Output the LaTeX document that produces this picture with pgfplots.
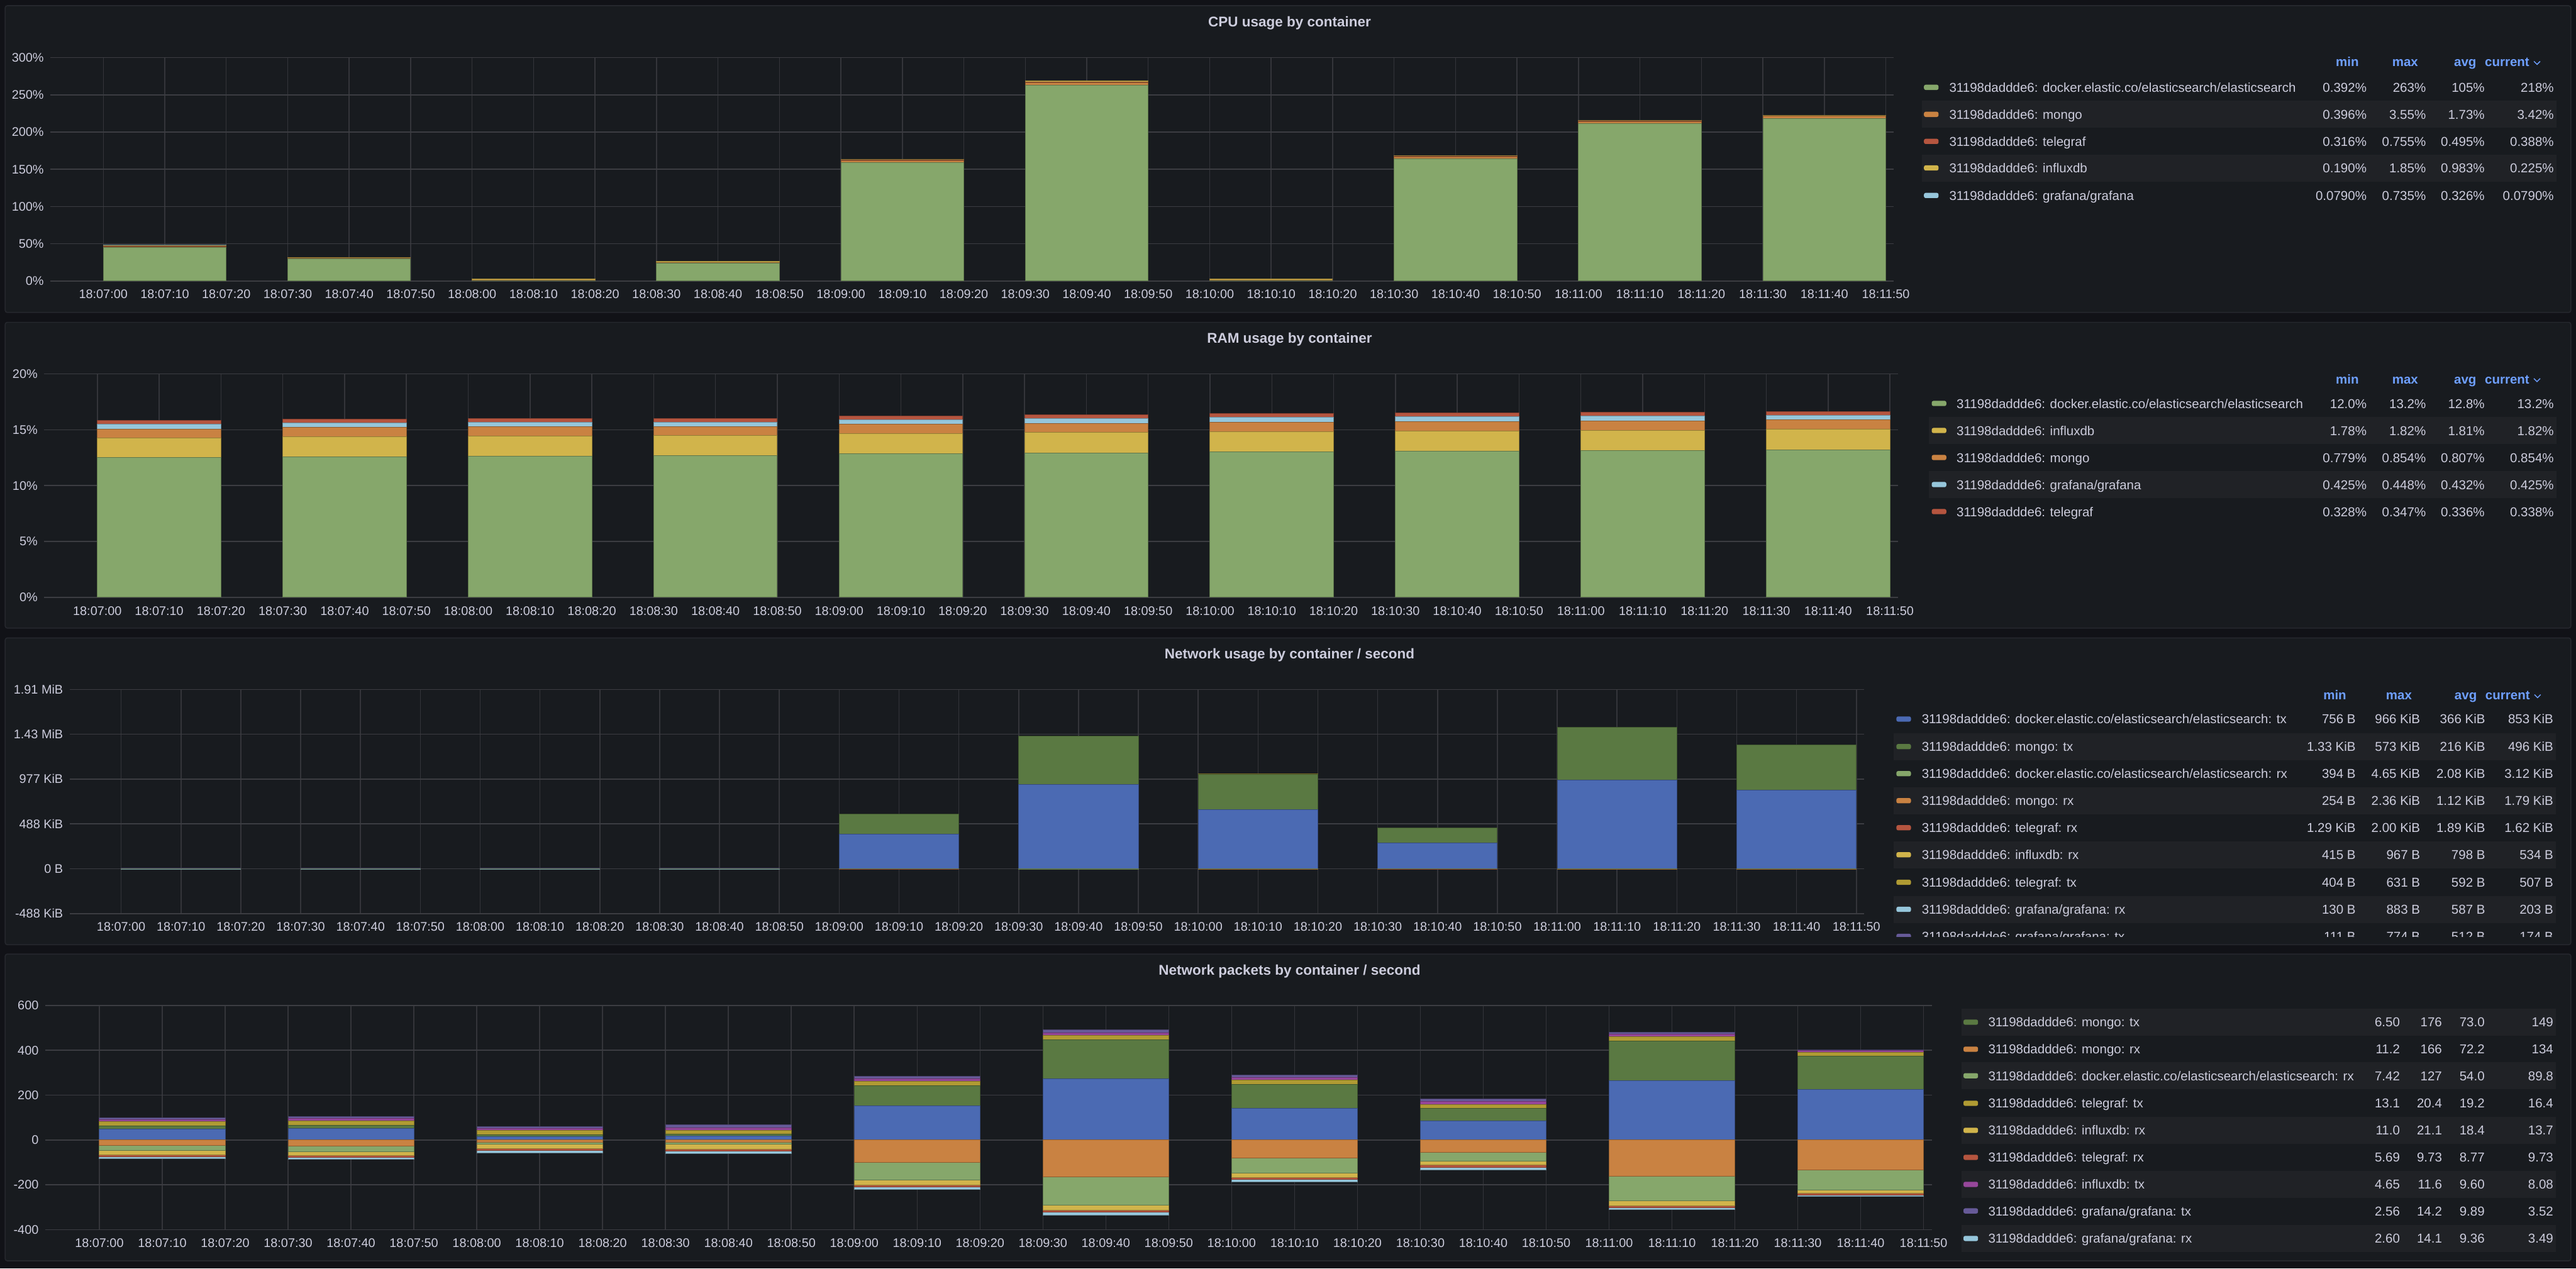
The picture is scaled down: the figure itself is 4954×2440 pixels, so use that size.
\documentclass[border=0pt]{standalone}
\usepackage{pgfplots}
\pgfplotsset{compat=1.18}
\usepackage{pgfplotstable}
\usepackage{fontspec}
\setmainfont{Liberation Sans}

\definecolor{pagebg}{HTML}{111217}
\definecolor{panelbg}{HTML}{181B1F}
\definecolor{panelborder}{HTML}{25272D}
\definecolor{rowbg}{HTML}{202226}
\definecolor{txt}{HTML}{CCCCDC}
\definecolor{hdr}{HTML}{6E9FFF}
\definecolor{hgrid}{HTML}{3C3D42}
\definecolor{vgrid}{HTML}{34353A}
\definecolor{cGreen}{HTML}{86A76B}
\definecolor{cOrange}{HTML}{C98242}
\definecolor{cRed}{HTML}{B5553F}
\definecolor{cYellow}{HTML}{D1B44B}
\definecolor{cLBlue}{HTML}{96C6DB}
\definecolor{cBlue}{HTML}{4B6AB3}
\definecolor{cDGreen}{HTML}{5A7942}
\definecolor{cOlive}{HTML}{B09B33}
\definecolor{cPurple}{HTML}{96479A}
\definecolor{cViolet}{HTML}{665A98}

\pgfplotstableread{
x es mongo telegraf influx grafana
10 45 1.0 0.5 1.5 0.4
40 29.5 0.9 0.45 0.6 0.3
70 0.392 0.396 0.32 1.85 0.2
100 24 0.8 0.4 0.9 0.735
130 159 2.5 0.65 1.2 0.3
160 263 3.55 0.755 1.3 0.35
190 0.5 0.45 0.316 1.7 0.25
220 164 2.6 0.6 0.8 0.2
250 211 3.3 0.55 0.6 0.15
280 218 3.42 0.388 0.225 0.079
}\cpudata

\pgfplotstableread{
x es influx mongo grafana telegraf
10 12.49 1.79 0.78 0.44 0.33
40 12.60 1.80 0.79 0.44 0.33
70 12.64 1.81 0.80 0.43 0.335
100 12.66 1.80 0.80 0.43 0.335
130 12.85 1.81 0.81 0.43 0.335
160 12.93 1.81 0.81 0.43 0.34
190 13.03 1.82 0.82 0.43 0.34
220 13.08 1.82 0.83 0.43 0.34
250 13.15 1.81 0.84 0.43 0.34
280 13.20 1.82 0.854 0.425 0.338
}\ramdata

\pgfplotstableread{
x estx mongotx telegraftx grafanatx esrx mongorx telegrafrx influxrx grafanarx
10 0.8 1.5 0.62 0.79 -0.5 -0.3 -2.0 -0.9 -0.9
40 0.9 1.4 0.60 0.60 -0.6 -0.4 -2.0 -0.9 -0.7
70 0.76 1.36 0.60 0.50 -0.4 -0.26 -2.0 -0.9 -0.6
100 0.85 1.4 0.61 0.60 -0.5 -0.3 -2.0 -0.95 -0.6
130 382 229 0.60 0.50 -2.5 -1.5 -2.0 -0.9 -0.6
160 941 541 0.60 0.50 -4.76 -2.4 -2.0 -0.9 -0.6
190 661 394 0.60 0.50 -3.0 -1.6 -2.0 -0.8 -0.5
220 286 171 0.60 0.40 -2.0 -1.1 -1.9 -0.8 -0.5
250 989 587 0.60 0.40 -3.5 -2.2 -1.9 -0.7 -0.4
280 873 508 0.52 0.18 -3.2 -1.83 -1.66 -0.55 -0.21
}\netdata

\pgfplotstableread{
x estx mongotx telegraftx influxtx grafanatx mongorx esrx influxrx telegrafrx grafanarx
10 48 16 18 10 7 -24 -23 -19 -9 -9
40 51 15 20 10 9 -26 -26 -17 -9 -9
70 15 8 19 9 10 -11.2 -8 -19 -9 -10
100 17 8 19 11.6 12.5 -11.5 -8 -21 -9 -12
130 153 89 19 11 13 -99 -81 -20 -10 -12
160 274 173 19 11.5 14.2 -165 -127 -20 -9.7 -14
190 141 108 19.5 11 10 -80 -67 -20 -9.7 -11
220 85 55 19.5 11.5 12.5 -54 -39.5 -19 -9 -12
250 266 176 19.5 10.5 9 -161 -111.6 -20.5 -9.7 -9
280 225 149 16.4 8.08 3.52 -134 -89.8 -13.7 -9.73 -3.49
}\pktdata

\pgfplotsset{
  bs/.style={fill=#1, draw=#1!70!black, line width=0.3pt},
  gstyle/.style={
    scale only axis,
    anchor=south west,
    xmin=-8.6, xmax=291.3,
    axis line style={draw=none},
    major tick length=0pt,
    tick style={draw=none},
    xtick={0,10,...,290},
    xticklabels={18:07:00,18:07:10,18:07:20,18:07:30,18:07:40,18:07:50,18:08:00,18:08:10,18:08:20,18:08:30,18:08:40,18:08:50,18:09:00,18:09:10,18:09:20,18:09:30,18:09:40,18:09:50,18:10:00,18:10:10,18:10:20,18:10:30,18:10:40,18:10:50,18:11:00,18:11:10,18:11:20,18:11:30,18:11:40,18:11:50},
    xmajorgrids, ymajorgrids,
    x grid style={vgrid, line width=0.45pt},
    y grid style={hgrid, line width=0.5pt},
    tick label style={font=\fontsize{6}{7}\selectfont, text=txt, inner sep=0pt},
    xticklabel style={anchor=base, yshift=-8.5pt},
    yticklabel style={anchor=east, xshift=-3pt},
    ybar stacked, bar width=20,
    /pgf/number format/assume math mode=true,
  },
}

\newcommand{\lrow}[7]{%
  \fill[#2, rounded corners=0.8pt] (\SX,#1-5) rectangle (\SX+28,#1+5);
  \node[lg, anchor=base west] at (\TX,#1+9) {#3};
  \node[lg, anchor=base east] at (\CA,#1+9) {#4};
  \node[lg, anchor=base east] at (\CB,#1+9) {#5};
  \node[lg, anchor=base east] at (\CC,#1+9) {#6};
  \node[lg, anchor=base east] at (\CD,#1+9) {#7};
}
\newcommand{\hlrow}[3]{\fill[rowbg] (#1,#3-26) rectangle (#2,#3+26);}
\newcommand{\hdrrow}[5]{%
  \node[lgh, anchor=base east] at (#2,#1) {min};
  \node[lgh, anchor=base east] at (#3,#1) {max};
  \node[lgh, anchor=base east] at (#4,#1) {avg};
  \node[lgh, anchor=base east] at (#5-22,#1) {current};
  \draw[hdr, line width=0.45pt] (#5-14,#1-10) -- (#5-8,#1-4) -- (#5-2,#1-10);
}

\begin{document}
\begin{tikzpicture}[x=0.25pt,y=0.25pt,
  lg/.style={font=\fontsize{6.2}{7}\selectfont, text=txt, inner sep=0pt},
  lgh/.style={font=\fontsize{6.2}{7}\selectfont\bfseries, text=hdr, inner sep=0pt},
  ttl/.style={font=\fontsize{6.8}{8}\selectfont\bfseries, text=txt, inner sep=0pt}]
\path[use as bounding box] (0,0) rectangle (4954,2440);
\fill[pagebg] (0,0) rectangle (4954,2440);

\begin{scope}[shift={(0,2440)}, yscale=-1]
  % panels
  \filldraw[fill=panelbg, draw=panelborder, line width=0.5pt, rounded corners=1pt] (10,11) rectangle (4944,601);
  \filldraw[fill=panelbg, draw=panelborder, line width=0.5pt, rounded corners=1pt] (10,620) rectangle (4944,1208);
  \filldraw[fill=panelbg, draw=panelborder, line width=0.5pt, rounded corners=1pt] (10,1227) rectangle (4944,1817);
  \filldraw[fill=panelbg, draw=panelborder, line width=0.5pt, rounded corners=1pt] (10,1835) rectangle (4944,2425);
  % titles
  \node[ttl, anchor=base] at (2480,51) {CPU usage by container};
  \node[ttl, anchor=base] at (2480,660) {RAM usage by container};
  \node[ttl, anchor=base] at (2480,1267) {Network usage by container / second};
  \node[ttl, anchor=base] at (2480,1875) {Network packets by container / second};

  % ---- CPU legend
  \hlrow{3696}{4916}{220}\hlrow{3696}{4916}{323}
  \hdrrow{128}{4537}{4651}{4763}{4887}
  \def\SX{3700}\def\TX{3748}\def\CA{4552}\def\CB{4666}\def\CC{4779}\def\CD{4912}
  \lrow{168}{cGreen}{31198daddde6: docker.elastic.co/elasticsearch/elasticsearch}{0.392\%}{263\%}{105\%}{218\%}
  \lrow{220}{cOrange}{31198daddde6: mongo}{0.396\%}{3.55\%}{1.73\%}{3.42\%}
  \lrow{272}{cRed}{31198daddde6: telegraf}{0.316\%}{0.755\%}{0.495\%}{0.388\%}
  \lrow{323}{cYellow}{31198daddde6: influxdb}{0.190\%}{1.85\%}{0.983\%}{0.225\%}
  \lrow{376}{cLBlue}{31198daddde6: grafana/grafana}{0.0790\%}{0.735\%}{0.326\%}{0.0790\%}

  % ---- RAM legend
  \hlrow{3710}{4916}{828}\hlrow{3710}{4916}{932}
  \hdrrow{738}{4537}{4651}{4763}{4887}
  \def\SX{3715}\def\TX{3762}
  \lrow{776}{cGreen}{31198daddde6: docker.elastic.co/elasticsearch/elasticsearch}{12.0\%}{13.2\%}{12.8\%}{13.2\%}
  \lrow{828}{cYellow}{31198daddde6: influxdb}{1.78\%}{1.82\%}{1.81\%}{1.82\%}
  \lrow{880}{cOrange}{31198daddde6: mongo}{0.779\%}{0.854\%}{0.807\%}{0.854\%}
  \lrow{932}{cLBlue}{31198daddde6: grafana/grafana}{0.425\%}{0.448\%}{0.432\%}{0.425\%}
  \lrow{984}{cRed}{31198daddde6: telegraf}{0.328\%}{0.347\%}{0.336\%}{0.338\%}

  % ---- Network legend
  \begin{scope}
  \clip (3600,1300) rectangle (4930,1801);
  \hlrow{3642}{4915}{1436}\hlrow{3642}{4915}{1540}\hlrow{3642}{4915}{1644}\hlrow{3642}{4915}{1749}
  \hdrrow{1346}{4513}{4639}{4764}{4888}
  \def\SX{3647}\def\TX{3695}\def\CA{4531}\def\CB{4655}\def\CC{4780}\def\CD{4911}
  \lrow{1383}{cBlue}{31198daddde6: docker.elastic.co/elasticsearch/elasticsearch: tx}{756 B}{966 KiB}{366 KiB}{853 KiB}
  \lrow{1436}{cDGreen}{31198daddde6: mongo: tx}{1.33 KiB}{573 KiB}{216 KiB}{496 KiB}
  \lrow{1488}{cGreen}{31198daddde6: docker.elastic.co/elasticsearch/elasticsearch: rx}{394 B}{4.65 KiB}{2.08 KiB}{3.12 KiB}
  \lrow{1540}{cOrange}{31198daddde6: mongo: rx}{254 B}{2.36 KiB}{1.12 KiB}{1.79 KiB}
  \lrow{1592}{cRed}{31198daddde6: telegraf: rx}{1.29 KiB}{2.00 KiB}{1.89 KiB}{1.62 KiB}
  \lrow{1644}{cYellow}{31198daddde6: influxdb: rx}{415 B}{967 B}{798 B}{534 B}
  \lrow{1697}{cOlive}{31198daddde6: telegraf: tx}{404 B}{631 B}{592 B}{507 B}
  \lrow{1749}{cLBlue}{31198daddde6: grafana/grafana: rx}{130 B}{883 B}{587 B}{203 B}
  \lrow{1801}{cViolet}{31198daddde6: grafana/grafana: tx}{111 B}{774 B}{512 B}{174 B}
  \end{scope}

  % ---- Packets legend
  \hlrow{3772}{4915}{1966}\hlrow{3772}{4915}{2069}\hlrow{3772}{4915}{2174}\hlrow{3772}{4915}{2278}\hlrow{3772}{4915}{2382}
  \def\SX{3776}\def\TX{3823}\def\CA{4616}\def\CB{4697}\def\CC{4779}\def\CD{4911}
  \lrow{1966}{cDGreen}{31198daddde6: mongo: tx}{6.50}{176}{73.0}{149}
  \lrow{2018}{cOrange}{31198daddde6: mongo: rx}{11.2}{166}{72.2}{134}
  \lrow{2069}{cGreen}{31198daddde6: docker.elastic.co/elasticsearch/elasticsearch: rx}{7.42}{127}{54.0}{89.8}
  \lrow{2122}{cOlive}{31198daddde6: telegraf: tx}{13.1}{20.4}{19.2}{16.4}
  \lrow{2174}{cYellow}{31198daddde6: influxdb: rx}{11.0}{21.1}{18.4}{13.7}
  \lrow{2226}{cRed}{31198daddde6: telegraf: rx}{5.69}{9.73}{8.77}{9.73}
  \lrow{2278}{cPurple}{31198daddde6: influxdb: tx}{4.65}{11.6}{9.60}{8.08}
  \lrow{2329}{cViolet}{31198daddde6: grafana/grafana: tx}{2.56}{14.2}{9.89}{3.52}
  \lrow{2382}{cLBlue}{31198daddde6: grafana/grafana: rx}{2.60}{14.1}{9.36}{3.49}
\end{scope}

% ===== CPU =====
\begin{axis}[gstyle, at={(24.25pt,474.875pt)}, width=886.25pt, height=107.45pt,
  ymin=0, ymax=300, ytick={0,50,...,300},
  yticklabels={0\%,50\%,100\%,150\%,200\%,250\%,300\%}]
\addplot[bs=cGreen] table[x=x,y=es]{\cpudata};
\addplot[bs=cOrange] table[x=x,y=mongo]{\cpudata};
\addplot[bs=cRed] table[x=x,y=telegraf]{\cpudata};
\addplot[bs=cYellow] table[x=x,y=influx]{\cpudata};
\addplot[bs=cLBlue] table[x=x,y=grafana]{\cpudata};
\end{axis}

% ===== RAM =====
\begin{axis}[gstyle, at={(21.25pt,322.75pt)}, width=891.25pt, height=107.5pt,
  ymin=0, ymax=20, ytick={0,5,...,20},
  yticklabels={0\%,5\%,10\%,15\%,20\%}]
\addplot[bs=cGreen] table[x=x,y=es]{\ramdata};
\addplot[bs=cYellow] table[x=x,y=influx]{\ramdata};
\addplot[bs=cOrange] table[x=x,y=mongo]{\ramdata};
\addplot[bs=cLBlue] table[x=x,y=grafana]{\ramdata};
\addplot[bs=cRed] table[x=x,y=telegraf]{\ramdata};
\end{axis}

% ===== Network usage =====
\begin{axis}[gstyle, at={(33.5pt,170.75pt)}, width=862.75pt, height=107.75pt,
  ymin=-500, ymax=2000, ytick={-500,0,500,1000,1500,2000},
  yticklabels={-488 KiB,0 B,488 KiB,977 KiB,1.43 MiB,1.91 MiB}]
\addplot[bs=cBlue] table[x=x,y=estx]{\netdata};
\addplot[bs=cDGreen] table[x=x,y=mongotx]{\netdata};
\addplot[bs=cOlive] table[x=x,y=telegraftx]{\netdata};
\addplot[bs=cViolet] table[x=x,y=grafanatx]{\netdata};
\end{axis}
\begin{axis}[gstyle, hide axis, at={(33.5pt,170.75pt)}, width=862.75pt, height=107.75pt,
  ymin=-500, ymax=2000]
\addplot[bs=cGreen] table[x=x,y=esrx]{\netdata};
\addplot[bs=cOrange] table[x=x,y=mongorx]{\netdata};
\addplot[bs=cRed] table[x=x,y=telegrafrx]{\netdata};
\addplot[bs=cYellow] table[x=x,y=influxrx]{\netdata};
\addplot[bs=cLBlue] table[x=x,y=grafanarx]{\netdata};
\end{axis}

% ===== Network packets =====
\begin{axis}[gstyle, at={(21.75pt,18.75pt)}, width=907pt, height=107.75pt,
  ymin=-400, ymax=600, ytick={-400,-200,...,600},
  yticklabels={-400,-200,0,200,400,600}]
\addplot[bs=cBlue] table[x=x,y=estx]{\pktdata};
\addplot[bs=cDGreen] table[x=x,y=mongotx]{\pktdata};
\addplot[bs=cOlive] table[x=x,y=telegraftx]{\pktdata};
\addplot[bs=cPurple] table[x=x,y=influxtx]{\pktdata};
\addplot[bs=cViolet] table[x=x,y=grafanatx]{\pktdata};
\end{axis}
\begin{axis}[gstyle, hide axis, at={(21.75pt,18.75pt)}, width=907pt, height=107.75pt,
  ymin=-400, ymax=600]
\addplot[bs=cOrange] table[x=x,y=mongorx]{\pktdata};
\addplot[bs=cGreen] table[x=x,y=esrx]{\pktdata};
\addplot[bs=cYellow] table[x=x,y=influxrx]{\pktdata};
\addplot[bs=cRed] table[x=x,y=telegrafrx]{\pktdata};
\addplot[bs=cLBlue] table[x=x,y=grafanarx]{\pktdata};
\end{axis}
\end{tikzpicture}
\end{document}
